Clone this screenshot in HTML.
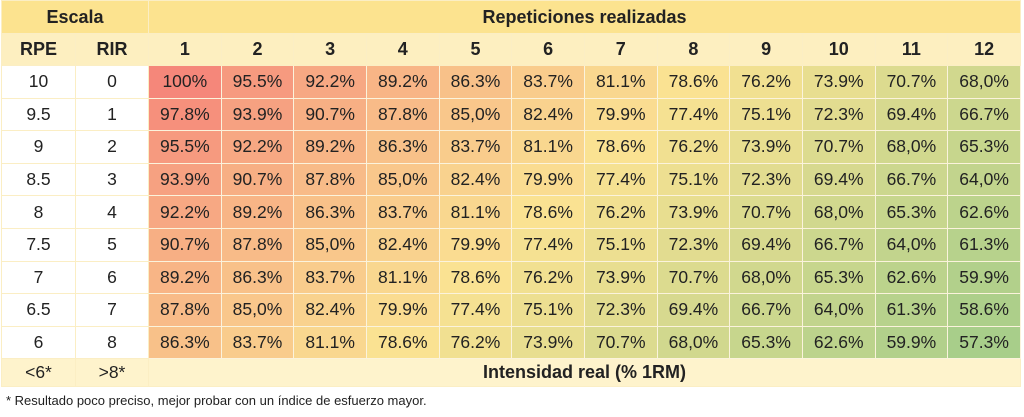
<!DOCTYPE html>
<html><head><meta charset="utf-8">
<style>
body{margin:0;width:1024px;height:417px;background:#fff;font-family:"Liberation Sans",sans-serif;overflow:hidden;position:relative}
table{position:absolute;left:1px;top:0;border-collapse:collapse;table-layout:fixed;width:1020px}
td{border:1.5px solid #fbeec4;text-align:center;font-size:17.5px;color:#222;padding:0;height:31.6px}
.h1 td{background:#fce38f;font-weight:bold;height:32px;font-size:18px}
.h2 td{background:#fdefc0;font-weight:bold;height:31px;font-size:18px}
.last td{background:#fef3cc;height:27px}
.foot{position:absolute;left:6px;top:393px;font-size:13px;color:#222}
</style></head><body>
<table id="t">
<colgroup><col style="width:74px"><col style="width:73px"><col span="12"></colgroup>
<tr class="h1"><td colspan="2">Escala</td><td colspan="12">Repeticiones realizadas</td></tr>
<tr class="h2"><td>RPE</td><td>RIR</td><td>1</td><td>2</td><td>3</td><td>4</td><td>5</td><td>6</td><td>7</td><td>8</td><td>9</td><td>10</td><td>11</td><td>12</td></tr>
<tr><td>10</td><td>0</td><td>100%</td><td>95.5%</td><td>92.2%</td><td>89.2%</td><td>86.3%</td><td>83.7%</td><td>81.1%</td><td>78.6%</td><td>76.2%</td><td>73.9%</td><td>70.7%</td><td>68,0%</td></tr>
<tr><td>9.5</td><td>1</td><td>97.8%</td><td>93.9%</td><td>90.7%</td><td>87.8%</td><td>85,0%</td><td>82.4%</td><td>79.9%</td><td>77.4%</td><td>75.1%</td><td>72.3%</td><td>69.4%</td><td>66.7%</td></tr>
<tr><td>9</td><td>2</td><td>95.5%</td><td>92.2%</td><td>89.2%</td><td>86.3%</td><td>83.7%</td><td>81.1%</td><td>78.6%</td><td>76.2%</td><td>73.9%</td><td>70.7%</td><td>68,0%</td><td>65.3%</td></tr>
<tr><td>8.5</td><td>3</td><td>93.9%</td><td>90.7%</td><td>87.8%</td><td>85,0%</td><td>82.4%</td><td>79.9%</td><td>77.4%</td><td>75.1%</td><td>72.3%</td><td>69.4%</td><td>66.7%</td><td>64,0%</td></tr>
<tr><td>8</td><td>4</td><td>92.2%</td><td>89.2%</td><td>86.3%</td><td>83.7%</td><td>81.1%</td><td>78.6%</td><td>76.2%</td><td>73.9%</td><td>70.7%</td><td>68,0%</td><td>65.3%</td><td>62.6%</td></tr>
<tr><td>7.5</td><td>5</td><td>90.7%</td><td>87.8%</td><td>85,0%</td><td>82.4%</td><td>79.9%</td><td>77.4%</td><td>75.1%</td><td>72.3%</td><td>69.4%</td><td>66.7%</td><td>64,0%</td><td>61.3%</td></tr>
<tr><td>7</td><td>6</td><td>89.2%</td><td>86.3%</td><td>83.7%</td><td>81.1%</td><td>78.6%</td><td>76.2%</td><td>73.9%</td><td>70.7%</td><td>68,0%</td><td>65.3%</td><td>62.6%</td><td>59.9%</td></tr>
<tr><td>6.5</td><td>7</td><td>87.8%</td><td>85,0%</td><td>82.4%</td><td>79.9%</td><td>77.4%</td><td>75.1%</td><td>72.3%</td><td>69.4%</td><td>66.7%</td><td>64,0%</td><td>61.3%</td><td>58.6%</td></tr>
<tr><td>6</td><td>8</td><td>86.3%</td><td>83.7%</td><td>81.1%</td><td>78.6%</td><td>76.2%</td><td>73.9%</td><td>70.7%</td><td>68,0%</td><td>65.3%</td><td>62.6%</td><td>59.9%</td><td>57.3%</td></tr>
<tr class="last"><td>&lt;6*</td><td>&gt;8*</td><td colspan="12" style="font-weight:bold;font-size:18px">Intensidad real (% 1RM)</td></tr>
</table>
<div class="foot">* Resultado poco preciso, mejor probar con un índice de esfuerzo mayor.</div>
<script>
var R=[245,135,122],Y=[250,226,146],G=[168,206,138];
function mix(a,b,t){return 'rgb('+a.map(function(v,i){return Math.round(v+(b[i]-v)*t)}).join(',')+')'}
var rows=document.getElementById('t').rows;
for(var r=2;r<11;r++){for(var c=2;c<14;c++){var cell=rows[r].cells[c];var v=parseFloat(cell.textContent.replace(',','.'));
var col=v>=78.6?mix(Y,R,(v-78.6)/(100-78.6)):mix(Y,G,(78.6-v)/(78.6-57.3));cell.style.background=col;cell.style.borderColor='#fbf3dc';}}
</script>
</body></html>
